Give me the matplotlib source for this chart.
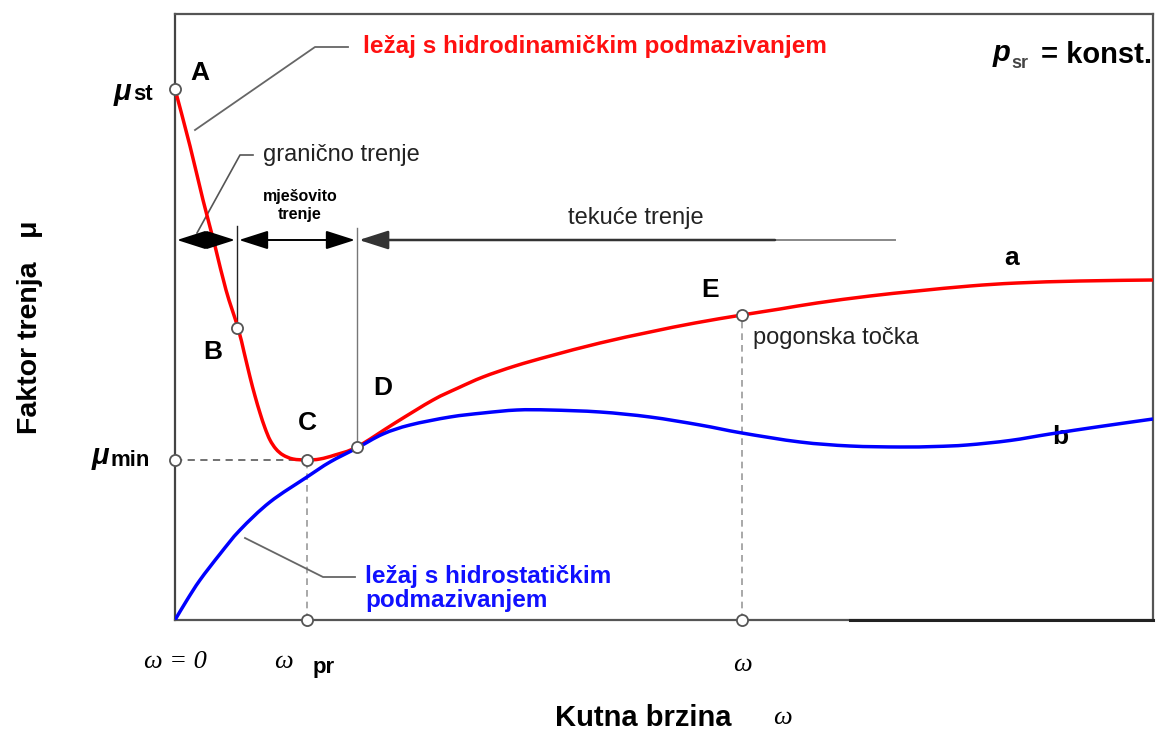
import numpy as np
import matplotlib.pyplot as plt
from matplotlib.patches import FancyArrowPatch, PathPatch
from matplotlib.path import Path

plt.rcParams['font.family'] = ['Liberation Sans', 'DejaVu Sans']

# schematic units: omega and mu measured from the lower left corner of the frame
W_MAX, MU_MAX = 978, 606

# curve a - hydrodynamic bearing (red)
red_w = [0, 15, 28, 40, 51, 63, 69, 75, 80, 85, 90, 95, 101, 108, 118, 132, 145, 160, 182,
         220, 258, 283, 308, 340, 375, 425, 475, 520, 567, 605, 642, 695, 742, 795,
         842, 905, 978]
red_mu = [531, 474, 420, 374, 330, 292, 268, 243, 224, 207, 192, 180, 171, 165, 161, 160,
          161, 165, 173, 197, 220, 232, 243, 254, 264, 277, 288, 297, 305, 311, 317,
          324, 329, 334, 337, 339, 340]

# curve b - hydrostatic bearing (blue)
blue_w = [0, 12, 25, 45, 65, 95, 132, 155, 182, 208, 235, 275, 308, 342, 375, 425,
          475, 525, 567, 625, 675, 725, 760, 792, 835, 875, 925, 978]
blue_mu = [0, 20, 40, 66, 90, 118, 143, 158, 172, 186, 195, 203, 207, 210, 210,
           208, 203, 195, 187, 178, 174, 173, 173.5, 175, 179.5, 186, 193.5, 201]

# characteristic points A..E
pt_names = ['A', 'B', 'C', 'D', 'E']
pt_w = [0, 62, 132, 182, 567]
pt_mu = [531, 292, 160, 173, 305]
mu_min = 160
w_pr = 132
w_op = 567

# friction regimes along the dimension line
regime_edges = [0, 62, 182]
dim_mu = 380


def smooth_curve(xs, ys):
    # Catmull-Rom through the read points, drawn as cubic Bezier pieces
    p = np.column_stack([xs, ys]).astype(float)
    verts = [p[0]]
    codes = [Path.MOVETO]
    for i in range(len(p) - 1):
        p0 = p[i - 1] if i > 0 else p[i]
        p3 = p[i + 2] if i + 2 < len(p) else p[i + 1]
        c1 = p[i] + (p[i + 1] - p0) / 6
        c2 = p[i + 1] - (p3 - p[i]) / 6
        verts += [c1, c2, p[i + 1]]
        codes += [Path.CURVE4] * 3
    return Path(verts, codes)


fig = plt.figure(figsize=(11.57, 7.34), dpi=100)
ax = fig.add_axes([175 / 1157, 114 / 734, 978 / 1157, 606 / 734])
ax.set_xlim(0, W_MAX)
ax.set_ylim(0, MU_MAX)
ax.set_xticks([])
ax.set_yticks([])
for s in ax.spines.values():
    s.set_color('#555555')
    s.set_linewidth(1.6)
ax.spines['left'].set_color('#444444')

# heavier piece of the bottom frame on the right
ax.plot([675, W_MAX], [0, 0], color='#222222', lw=2.2, clip_on=False, zorder=3)

# dashed helper lines
ax.plot([0, w_pr], [mu_min, mu_min], ls=(0, (4, 3)), color='#666666', lw=1.3)
ax.plot([w_pr, w_pr], [0, mu_min], ls=(0, (4, 3)), color='#999999', lw=1.2)
ax.plot([w_op, w_op], [0, pt_mu[4]], ls=(0, (4, 3)), color='#999999', lw=1.2)

# regime boundaries
ax.plot([62, 62], [pt_mu[1], 394], color='#222222', lw=1.0)
ax.plot([182, 182], [pt_mu[3], 392], color='#777777', lw=1.0)

# curves
ax.add_patch(PathPatch(smooth_curve(red_w, red_mu), fc='none', ec='#ff0000', lw=2.5,
                       zorder=4))
ax.add_patch(PathPatch(smooth_curve(blue_w, blue_mu), fc='none', ec='#0000ff', lw=2.5,
                       zorder=4))

# dimension arrows
arrow_kw = dict(arrowstyle='<|-|>,head_length=1.0,head_width=0.32', mutation_scale=18,
                color='black', lw=1.4, shrinkA=0, shrinkB=0, zorder=5)
for x0, x1 in zip(regime_edges[:-1], regime_edges[1:]):
    ax.add_patch(FancyArrowPatch((x0 + 2, dim_mu), (x1 - 2, dim_mu), **arrow_kw))
ax.add_patch(FancyArrowPatch((184, dim_mu), (600, dim_mu),
                             arrowstyle='<|-,head_length=1.0,head_width=0.32',
                             mutation_scale=18, color='#333333', lw=1.8,
                             shrinkA=0, shrinkB=0, zorder=5))
ax.plot([600, 720], [dim_mu, dim_mu], color='#888888', lw=1.4)

# open markers
mk = dict(marker='o', ms=8, mfc='white', mec='#555555', mew=1.3, ls='none',
          zorder=6, clip_on=False)
ax.plot(pt_w, pt_mu, **mk)
ax.plot([0, w_pr, w_op], [mu_min, 0, 0], **mk)

# point letters
lbl_off = [(25, 16), (-24, -24), (0, 37), (26, 59), (-32, 25)]
for n, w, m, (dx, dy) in zip(pt_names, pt_w, pt_mu, lbl_off):
    ax.text(w + dx, m + dy, n, fontsize=19, fontweight='bold', ha='center', va='center')
ax.text(837, 362, 'a', fontsize=19, fontweight='bold', ha='center', va='center')
ax.text(885, 183, 'b', fontsize=19, fontweight='bold', ha='center', va='center')

# leaders and annotations
ax.plot([20, 140, 173], [490, 573, 573], color='#666666', lw=1.3)
ax.text(188, 573, 'ležaj s hidrodinamičkim podmazivanjem', color='#ff1010',
        fontsize=17.5, fontweight='bold', va='center')
ax.plot([22, 65, 78], [387, 465, 465], color='#555555', lw=1.2)
ax.text(88, 465, 'granično trenje', fontsize=17, va='center', color='#222222')
ax.text(125, 423, 'mješovito', fontsize=11.5, fontweight='bold', ha='center', va='center')
ax.text(125, 405, 'trenje', fontsize=11.5, fontweight='bold', ha='center', va='center')
ax.text(461, 402, 'tekuće trenje', fontsize=17, ha='center', va='center', color='#222222')
ax.text(578, 282, 'pogonska točka', fontsize=17, va='center', color='#222222')
ax.plot([70, 148, 180], [82, 43, 43], color='#666666', lw=1.3)
ax.text(190, 43, 'ležaj s hidrostatičkim', color='#1010ff', fontsize=17.5,
        fontweight='bold', va='center')
ax.text(190, 19, 'podmazivanjem', color='#1010ff', fontsize=17.5,
        fontweight='bold', va='center')
ax.text(818, 567, 'p', fontsize=21, fontweight='bold', style='italic', ha='left',
        va='center')
ax.text(836, 557, 'sr', fontsize=13, fontweight='bold', ha='left', va='center',
        color='#444444')
ax.text(977, 565, '= konst.', fontsize=21, fontweight='bold', ha='right', va='center')

# axis value labels
fig.text(114 / 1157, 1 - 92 / 734, 'μ', fontsize=21, fontweight='bold', style='italic',
         ha='left', va='center')
fig.text(133 / 1157, 1 - 95 / 734, 'st', fontsize=16, fontweight='bold', ha='left',
         va='center')
fig.text(92 / 1157, 1 - 456 / 734, 'μ', fontsize=21, fontweight='bold', style='italic',
         ha='left', va='center')
fig.text(111 / 1157, 1 - 461 / 734, 'min', fontsize=16, fontweight='bold', ha='left',
         va='center')

serif = ['Liberation Serif', 'DejaVu Serif']
ax.text(0, -42, 'ω = 0', family=serif, fontsize=19, style='italic', ha='center',
        va='center', clip_on=False)
ax.text(w_pr - 24, -42, 'ω', family=serif, fontsize=19, style='italic', ha='center',
        va='center', clip_on=False)
ax.text(w_pr + 17, -48, 'pr', fontsize=16, fontweight='bold', ha='center', va='center',
        clip_on=False)
ax.text(w_op, -45, 'ω', family=serif, fontsize=19, style='italic', ha='center',
        va='center', clip_on=False)
fig.text(643 / 1157, 1 - 718 / 734, 'Kutna brzina', fontsize=21, fontweight='bold',
         ha='center', va='center')
fig.text(782 / 1157, 1 - 718 / 734, 'ω', family=serif, fontsize=19, style='italic',
         ha='center', va='center')
fig.text(30 / 1157, 1 - 327 / 734, 'Faktor trenja   μ', fontsize=20.5, fontweight='bold',
         rotation=90, ha='center', va='center')

fig.savefig('out.png', dpi=100)
